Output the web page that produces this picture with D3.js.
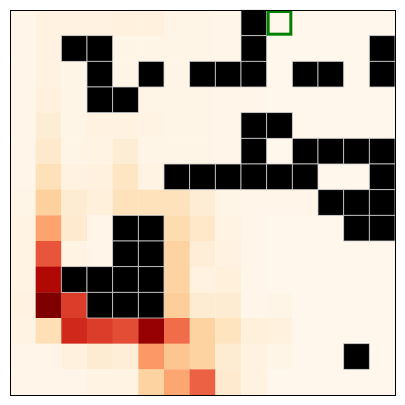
<!DOCTYPE html>
<html>
<head>
<meta charset="utf-8">
<script src="https://cdn.jsdelivr.net/npm/d3@7"></script>
<style>
  html, body { margin: 0; padding: 0; background: #fff; }
</style>
</head>
<body>
<div id="chart"></div>
<script>
// grid size
const nRows = 15;
const nCols = 15;

// cell values (row by row, top to bottom); null = wall
const W = null;
const values = [
  [0.01, 0.04, 0.04, 0.04, 0.05, 0.05, 0.02, 0.02, 0.01, W, 0, 0, 0, 0, 0],
  [0.01, 0.04, W, W, 0.02, 0.02, 0.02, 0.02, 0.01, W, 0, 0, 0, 0, W],
  [0.01, 0.04, 0.02, W, 0.02, W, 0.02, W, W, W, 0, W, W, 0, W],
  [0.01, 0.05, 0.02, W, W, 0.02, 0.02, 0.02, 0.01, 0.01, 0, 0, 0, 0, 0],
  [0.01, 0.08, 0.02, 0.04, 0.04, 0.03, 0.02, 0.02, 0.01, W, W, 0, 0, 0, 0],
  [0.01, 0.11, 0.02, 0.03, 0.08, 0.02, 0.02, 0.02, 0.01, W, 0, W, W, W, W],
  [0.01, 0.17, 0.04, 0.05, 0.13, 0.03, W, W, W, W, W, W, 0, 0, W],
  [0.02, 0.26, 0.09, 0.06, 0.16, 0.16, 0.16, 0.08, 0.02, 0.01, 0.01, 0.01, W, W, W],
  [0.03, 0.44, 0.10, 0.01, W, W, 0.20, 0.12, 0.03, 0.01, 0, 0, 0, W, W],
  [0.03, 0.66, 0.03, 0.01, W, W, 0.25, 0.07, 0.04, 0.01, 0, 0, 0, 0, 0],
  [0.03, 0.875, W, W, W, W, 0.25, 0.04, 0.06, 0.01, 0, 0, 0, 0, 0],
  [0.04, 1.0, 0.72, W, W, W, 0.28, 0.09, 0.09, 0.01, 0.02, 0, 0, 0, 0],
  [0.03, 0.18, 0.77, 0.72, 0.68, 0.94, 0.60, 0.25, 0.15, 0.06, 0.05, 0, 0, 0, 0],
  [0.01, 0.01, 0.05, 0.09, 0.07, 0.47, 0.32, 0.25, 0.09, 0.04, 0.02, 0, 0, W, 0],
  [0.01, 0.01, 0.01, 0.03, 0.03, 0.25, 0.43, 0.63, 0.10, 0.04, 0, 0, 0, 0, 0]
];

// goal cell [row, col]
const goal = [0, 10];

const width = 405, height = 405;
const margin = { top: 10, right: 10, bottom: 10, left: 10 };

const svg = d3.select('#chart')
  .append('svg')
  .attr('width', width)
  .attr('height', height);

const x = d3.scaleBand()
  .domain(d3.range(nCols))
  .range([margin.left, width - margin.right])
  .padding(0);

const y = d3.scaleBand()
  .domain(d3.range(nRows))
  .range([margin.top, height - margin.bottom])
  .padding(0);

const color = d3.scaleSequential(d3.interpolateOrRd).domain([0, 1]);

// flatten into cells
const cells = [];
values.forEach((row, r) => row.forEach((v, c) => cells.push({ r: r, c: c, v: v })));

// heat cells
svg.append('g')
  .selectAll('rect')
  .data(cells.filter(d => d.v !== null))
  .enter()
  .append('rect')
  .attr('x', d => x(d.c))
  .attr('y', d => y(d.r))
  .attr('width', x.bandwidth() + 0.3)
  .attr('height', y.bandwidth() + 0.3)
  .style('fill', d => color(d.v));

// walls
svg.append('g')
  .selectAll('rect')
  .data(cells.filter(d => d.v === null))
  .enter()
  .append('rect')
  .attr('x', d => x(d.c))
  .attr('y', d => y(d.r))
  .attr('width', x.bandwidth())
  .attr('height', y.bandwidth())
  .style('fill', '#000')
  .style('stroke', '#cfcfcf')
  .style('stroke-width', 0.8);

// goal marker
svg.append('rect')
  .attr('x', x(goal[1]) + 1.5)
  .attr('y', y(goal[0]) + 1.5)
  .attr('width', x.bandwidth() - 3)
  .attr('height', y.bandwidth() - 3)
  .style('fill', 'none')
  .style('stroke', 'green')
  .style('stroke-width', 3);

// frame
svg.append('rect')
  .attr('x', margin.left + 0.5)
  .attr('y', margin.top + 0.5)
  .attr('width', width - margin.left - margin.right)
  .attr('height', height - margin.top - margin.bottom)
  .style('fill', 'none')
  .style('stroke', '#000')
  .style('stroke-width', 1);
</script>
</body>
</html>
